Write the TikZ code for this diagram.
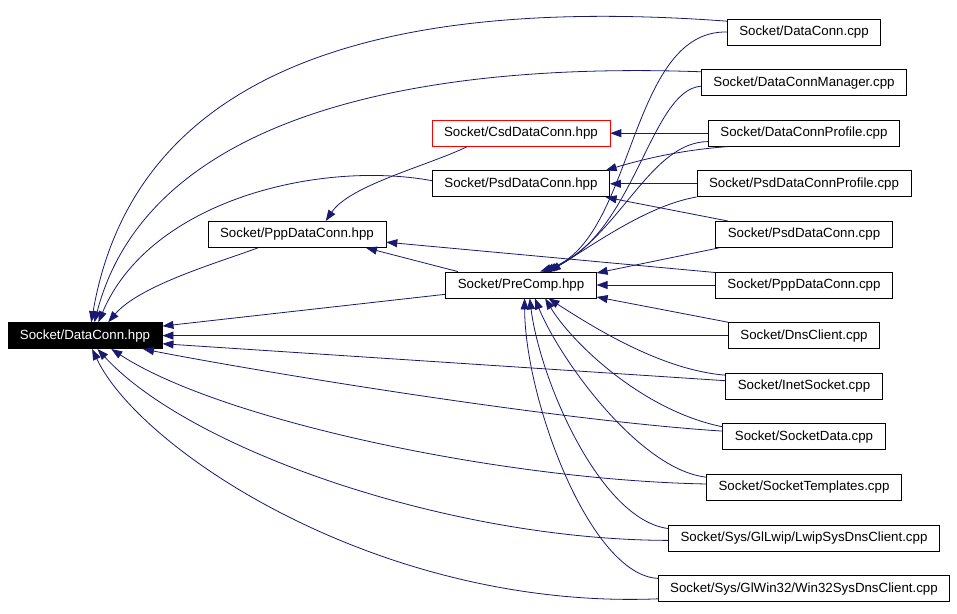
\documentclass[tikz,border=0pt]{standalone}
\usepackage{fontspec}
\setmainfont{Liberation Sans}
\usepackage{xcolor}
\usepackage{tikz}
\usetikzlibrary{arrows.meta,positioning}
\definecolor{edgeblue}{HTML}{191970}

\begin{document}
\begin{tikzpicture}[
  x=1pt, y=-1pt,
  file/.style={draw=#1, line width=0.8pt, fill=white, minimum height=26pt,
    inner xsep=12pt, inner ysep=0pt, font=\fontsize{13.3}{15}\selectfont},
  file/.default=black,
  focus/.style={file, fill=black, text=white},
  dep/.style={-{Triangle[length=11pt, width=8pt]}, line width=0.8pt, color=edgeblue},
  node distance=23.8pt
]
  \useasboundingbox (0,0) rectangle (957,613);

  % including sources, one column
  \node[file] (dcCpp) at (804,32) {Socket/DataConn.cpp};
  \node[file, below=of dcCpp]      (mgrCpp)     {Socket/DataConnManager.cpp};
  \node[file, below=of mgrCpp]     (profCpp)    {Socket/DataConnProfile.cpp};
  \node[file, below=of profCpp]    (psdProfCpp) {Socket/PsdDataConnProfile.cpp};
  \node[file, below=of psdProfCpp] (psdCpp)     {Socket/PsdDataConn.cpp};
  \node[file, below=of psdCpp]     (pppCpp)     {Socket/PppDataConn.cpp};
  \node[file, below=of pppCpp]     (dnsCpp)     {Socket/DnsClient.cpp};
  \node[file, below=of dnsCpp]     (inetCpp)    {Socket/InetSocket.cpp};
  \node[file, below=of inetCpp]    (sockCpp)    {Socket/SocketData.cpp};
  \node[file, below=of sockCpp]    (tmplCpp)    {Socket/SocketTemplates.cpp};
  \node[file, below=of tmplCpp]    (lwipCpp)    {Socket/Sys/GlLwip/LwipSysDnsClient.cpp};
  \node[file, below=of lwipCpp]    (winCpp)     {Socket/Sys/GlWin32/Win32SysDnsClient.cpp};

  % headers
  \node[file=red] (csdHpp) at (521,0 |- profCpp)    {Socket/CsdDataConn.hpp};
  \node[file]     (psdHpp) at (521,0 |- psdProfCpp) {Socket/PsdDataConn.hpp};
  \node[file]     (pppHpp) at (297,0 |- psdCpp)     {Socket/PppDataConn.hpp};
  \node[file]     (preHpp) at (521,0 |- pppCpp)     {Socket/PreComp.hpp};
  \node[focus]    (dcHpp)  at (85,0 |- dnsCpp)      {Socket/DataConn.hpp};

  % straight includes
  \foreach \i/\j in {dnsCpp.west/dcHpp.east, inetCpp.176/dcHpp.354, preHpp.187/dcHpp.7,
      pppCpp.west/preHpp.east, dnsCpp.170/preHpp.351, psdCpp.189/preHpp.9,
      profCpp.west/csdHpp.east, psdProfCpp.west/psdHpp.east, psdCpp.170/psdHpp.351,
      pppCpp.172/pppHpp.355, preHpp.168/pppHpp.349} {
    \draw[dep] (\i) -- (\j);
  }

  % curved includes of DataConn.hpp
  \draw[dep] (dcCpp.172) .. controls (440,0) and (140,40) .. (dcHpp.65);
  \draw[dep] (mgrCpp.174) .. controls (430,62) and (150,110) .. (dcHpp.55);
  \draw[dep] (psdHpp.178) .. controls (320,160) and (150,200) .. (dcHpp.45);
  \draw[dep] (pppHpp.199) .. controls (220,262) and (140,285) .. (dcHpp.30);
  \draw[dep] (sockCpp.176) .. controls (550,420) and (250,370) .. (dcHpp.347);
  \draw[dep] (tmplCpp.178) .. controls (500,480) and (220,420) .. (dcHpp.333);
  \draw[dep] (lwipCpp.181) .. controls (450,540) and (190,450) .. (dcHpp.313);
  \draw[dep] (winCpp.184) .. controls (380,610) and (140,450) .. (dcHpp.298);

  % curved includes of PreComp.hpp
  \draw[dep] (dcCpp.west) .. controls (628,30) and (635,240) .. (preHpp.35);
  \draw[dep] (mgrCpp.182) .. controls (650,90) and (635,235) .. (preHpp.31);
  \draw[dep] (profCpp.185) .. controls (650,142) and (620,235) .. (preHpp.28);
  \draw[dep] (psdProfCpp.187) .. controls (650,205) and (600,240) .. (preHpp.25);
  \draw[dep] (inetCpp.172) .. controls (660,370) and (590,325) .. (preHpp.334);
  \draw[dep] (sockCpp.173) .. controls (640,410) and (570,340) .. (preHpp.331);
  \draw[dep] (tmplCpp.174) .. controls (640,470) and (560,360) .. (preHpp.316);
  \draw[dep] (lwipCpp.176) .. controls (600,520) and (540,380) .. (preHpp.303);
  \draw[dep] (winCpp.176) .. controls (590,575) and (525,400) .. (preHpp.285);

  % the rest
  \draw[dep] (profCpp.190) .. controls (680,150) and (640,160) .. (psdHpp.9);
  \draw[dep] (csdHpp.194) .. controls (430,165) and (350,185) .. (pppHpp.25);
\end{tikzpicture}
\end{document}
